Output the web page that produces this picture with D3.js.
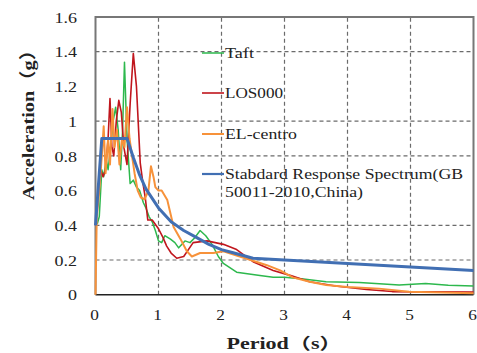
<!DOCTYPE html>
<html><head><meta charset="utf-8">
<script src="https://cdn.jsdelivr.net/npm/d3@7"></script>
<style>body{margin:0;background:#fff} text{font-family:"Liberation Serif","DejaVu Serif","Noto Sans CJK SC",serif;}</style></head>
<body><svg id="c" width="477" height="353"></svg>
<script>
// ---- data ----
const xTicks = [0, 1, 2, 3, 4, 5, 6];
const yTicks = [0, 0.2, 0.4, 0.6, 0.8, 1, 1.2, 1.4, 1.6];
const yGridValues = [0.2, 0.4, 0.8, 1.0, 1.4];
const xGridValues = [1, 2, 3, 4, 5];

const taftT = [0, 0.03, 0.06, 0.1, 0.13, 0.17, 0.2, 0.24, 0.28, 0.32, 0.36, 0.4, 0.43, 0.46, 0.5, 0.55, 0.6, 0.65, 0.7, 0.76, 0.8, 0.85, 0.9, 0.95, 1.0, 1.05, 1.1, 1.19, 1.26, 1.32, 1.42, 1.5, 1.58, 1.66, 1.75, 1.85, 1.95, 2.03, 2.24, 2.61, 2.82, 3.0, 3.3, 3.66, 4.19, 4.82, 5.24, 5.6, 6.0];
const taftA = [0.42, 0.41, 0.45, 0.72, 0.68, 0.78, 0.72, 0.85, 1.0, 1.08, 0.95, 0.72, 0.95, 1.34, 0.9, 0.64, 0.66, 0.62, 0.6, 0.53, 0.5, 0.45, 0.42, 0.37, 0.31, 0.3, 0.34, 0.32, 0.3, 0.27, 0.31, 0.3, 0.33, 0.37, 0.34, 0.29, 0.22, 0.18, 0.13, 0.11, 0.1, 0.1, 0.09, 0.075, 0.07, 0.056, 0.065, 0.055, 0.05];

const losT = [0, 0.04, 0.08, 0.12, 0.16, 0.2, 0.23, 0.26, 0.29, 0.33, 0.37, 0.41, 0.45, 0.5, 0.55, 0.6, 0.65, 0.71, 0.75, 0.79, 0.83, 0.9, 1.0, 1.07, 1.13, 1.2, 1.29, 1.4, 1.55, 1.77, 2.03, 2.24, 2.5, 2.82, 3.1, 3.4, 3.81, 4.3, 4.71, 5.3, 6.0];
const losA = [0.4, 0.55, 0.72, 0.68, 0.72, 0.9, 1.13, 0.85, 0.8, 1.0, 1.12, 1.05, 0.85, 0.75, 1.1, 1.39, 1.2, 0.76, 0.65, 0.56, 0.43, 0.43, 0.38, 0.33, 0.28, 0.24, 0.21, 0.22, 0.3, 0.31, 0.29, 0.26, 0.19, 0.14, 0.11, 0.075, 0.05, 0.03, 0.018, 0.016, 0.015];

const elT = [0, 0.02, 0.06, 0.1, 0.13, 0.16, 0.2, 0.23, 0.27, 0.3, 0.34, 0.38, 0.42, 0.46, 0.5, 0.54, 0.58, 0.62, 0.67, 0.72, 0.78, 0.84, 0.88, 0.92, 0.95, 1.0, 1.05, 1.14, 1.24, 1.35, 1.45, 1.53, 1.66, 1.87, 2.03, 2.29, 2.72, 2.93, 3.13, 3.4, 3.66, 4.0, 4.5, 4.98, 5.5, 6.0];
const elA = [0, 0.45, 0.6, 0.8, 0.97, 0.7, 0.9, 0.75, 1.07, 0.85, 0.95, 0.75, 0.9, 0.85, 1.08, 0.9, 0.8, 0.7, 0.6, 0.56, 0.55, 0.6, 0.74, 0.68, 0.62, 0.6, 0.6, 0.545, 0.39, 0.32, 0.25, 0.22, 0.24, 0.24, 0.25, 0.22, 0.17, 0.14, 0.1, 0.075, 0.056, 0.045, 0.035, 0.017, 0.012, 0.008];

const stdT = [0, 0.1, 0.5, 0.6, 0.7, 0.8, 1.0, 1.2, 1.4, 1.6, 1.8, 2.0, 2.2, 2.5, 3.0, 4.0, 5.0, 6.0];
const stdA = [0.4, 0.9, 0.9, 0.79, 0.69, 0.61, 0.5, 0.42, 0.37, 0.33, 0.29, 0.26, 0.24, 0.21, 0.2, 0.18, 0.16, 0.14];

const seriesNames = ["Taft", "LOS000", "EL-centro", "Stabdard Response Spectrum(GB", "50011-2010,China)"];
const xTitle = "Period（s）";
const yTitle = "Acceleration（g）";

// ---- drawing ----
const svg = d3.select("#c");
const x = d3.scaleLinear().domain([0, 6]).range([95.5, 473.5]);
const y = d3.scaleLinear().domain([0, 1.6]).range([294.7, 17]);

function stretch(sel, k) {
  sel.each(function () {
    const w = this.getComputedTextLength();
    d3.select(this).attr("textLength", w * k).attr("lengthAdjust", "spacingAndGlyphs");
  });
}

// grid
svg.append("g").selectAll("line").data(yGridValues).join("line")
  .attr("x1", x(0)).attr("x2", x(6)).attr("y1", d => y(d)).attr("y2", d => y(d))
  .attr("stroke", "#6b6b6b").attr("stroke-width", 1.2).attr("stroke-dasharray", "4,3");
svg.append("g").selectAll("line").data(xGridValues).join("line")
  .attr("y1", y(0)).attr("y2", y(1.6)).attr("x1", d => x(d)).attr("x2", d => x(d))
  .attr("stroke", "#6b6b6b").attr("stroke-width", 1.2).attr("stroke-dasharray", "4,3");

// frame
svg.append("path")
  .attr("d", `M${x(0)},${y(0)}V${y(1.6)}H${x(6)}V${y(0)}`)
  .attr("fill", "none").attr("stroke", "#777").attr("stroke-width", 2);
svg.append("line").attr("x1", x(0)).attr("x2", x(6)).attr("y1", y(0)).attr("y2", y(0))
  .attr("stroke", "#222").attr("stroke-width", 1.5);

// series
const line = d3.line().x(d => x(d[0])).y(d => y(d[1]));
const series = [
  { T: taftT, A: taftA, color: "#2db84d", w: 1.5 },
  { T: losT, A: losA, color: "#c0161d", w: 1.6 },
  { T: elT, A: elA, color: "#f7923a", w: 2 },
  { T: stdT, A: stdA, color: "#416fb3", w: 3 }
];
series.forEach(s => {
  svg.append("path").datum(d3.zip(s.T, s.A)).attr("d", line)
    .attr("fill", "none").attr("stroke", s.color).attr("stroke-width", s.w)
    .attr("stroke-linejoin", "round");
});

// axes labels
const yAxis = d3.axisLeft(y).tickValues(yTicks).tickSize(0).tickPadding(0).tickFormat(d3.format("~g"));
const gy = svg.append("g").attr("transform", `translate(77,0)`).call(yAxis);
gy.select(".domain").remove();
gy.selectAll("text").attr("font-family", null).attr("font-size", 15).attr("fill", "#222").attr("dy", "0.35em").attr("x", 0);
gy.attr("font-family", null);
stretch(gy.selectAll("text"), 1.2);

const xAxis = d3.axisBottom(x).tickValues(xTicks).tickSize(0).tickPadding(0).tickFormat(d3.format("~g"));
const gx = svg.append("g").attr("transform", `translate(-1.5,309)`).call(xAxis);
gx.select(".domain").remove();
gx.attr("font-family", null);
gx.selectAll("text").attr("font-size", 15).attr("fill", "#222").attr("dy", "0.71em").attr("y", 0);
stretch(gx.selectAll("text"), 1.15);

// titles
svg.append("text").attr("x", 284).attr("y", 349).attr("text-anchor", "middle")
  .attr("font-weight", "bold").attr("font-size", 16).attr("fill", "#222")
  .attr("textLength", 115).attr("lengthAdjust", "spacingAndGlyphs").text(xTitle);
svg.append("text").attr("transform", "translate(34,120) rotate(-90)").attr("text-anchor", "middle")
  .attr("font-weight", "bold").attr("font-size", 17).attr("fill", "#222")
  .attr("textLength", 160).attr("lengthAdjust", "spacingAndGlyphs").text(yTitle);

// legend
const legY = [53, 93, 134, 174];
const legW = [29, 58, 72, 238];
series.forEach((s, i) => {
  svg.append("line").attr("x1", 202).attr("x2", 224).attr("y1", legY[i]).attr("y2", legY[i])
    .attr("stroke", s.color).attr("stroke-width", Math.min(s.w, 2.2));
  svg.append("text").attr("x", 225).attr("y", legY[i] + 5)
    .attr("font-size", 14).attr("fill", "#222")
    .attr("textLength", legW[i]).attr("lengthAdjust", "spacingAndGlyphs").text(seriesNames[i]);
});
svg.append("text").attr("x", 225).attr("y", 197)
  .attr("font-size", 14).attr("fill", "#222")
  .attr("textLength", 138).attr("lengthAdjust", "spacingAndGlyphs").text(seriesNames[4]);
</script></body></html>
